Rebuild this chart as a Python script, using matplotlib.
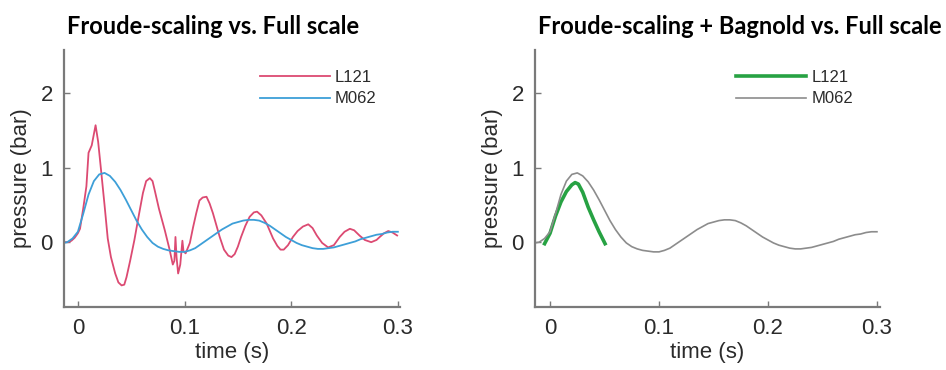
import matplotlib
matplotlib.use("Agg")
import matplotlib.pyplot as plt

# Full-scale measurement M062 (time in s, pressure in bar)
t_m062 = [-0.014, -0.010, -0.005, 0.000, 0.005, 0.010, 0.015, 0.020, 0.025, 0.030,
          0.035, 0.040, 0.045, 0.050, 0.055, 0.060, 0.065, 0.070, 0.075, 0.080,
          0.085, 0.090, 0.095, 0.100, 0.105, 0.110, 0.115, 0.120, 0.125, 0.130,
          0.135, 0.140, 0.145, 0.150, 0.155, 0.160, 0.165, 0.170, 0.175, 0.180,
          0.185, 0.190, 0.195, 0.200, 0.205, 0.210, 0.215, 0.220, 0.225, 0.230,
          0.235, 0.240, 0.245, 0.250, 0.255, 0.260, 0.265, 0.270, 0.275, 0.280,
          0.285, 0.290, 0.295, 0.300]
p_m062 = [-0.01, 0.00, 0.05, 0.14, 0.38, 0.64, 0.82, 0.91, 0.93, 0.89,
          0.81, 0.70, 0.57, 0.43, 0.29, 0.17, 0.07, -0.01, -0.06, -0.09,
          -0.11, -0.12, -0.13, -0.13, -0.11, -0.08, -0.03, 0.02, 0.07, 0.12,
          0.17, 0.21, 0.25, 0.27, 0.29, 0.30, 0.30, 0.29, 0.26, 0.22,
          0.17, 0.12, 0.07, 0.03, -0.01, -0.04, -0.06, -0.08, -0.09, -0.09,
          -0.08, -0.07, -0.05, -0.03, -0.01, 0.01, 0.04, 0.06, 0.08, 0.10,
          0.11, 0.13, 0.14, 0.14]

# Froude-scaled model test L121
t_l121 = [-0.014, -0.009, -0.006, -0.003, 0.000, 0.002, 0.005, 0.008, 0.010, 0.013,
          0.0166, 0.019, 0.022, 0.025, 0.028, 0.031, 0.035, 0.038, 0.041, 0.0435,
          0.0456, 0.049, 0.053, 0.057, 0.061, 0.064, 0.0675, 0.070, 0.072, 0.076,
          0.0815, 0.086, 0.089, 0.0905, 0.0915, 0.0925, 0.094, 0.096, 0.098, 0.099,
          0.101, 0.105, 0.108, 0.111, 0.114, 0.117, 0.1206, 0.1235, 0.1266, 0.130,
          0.133, 0.137, 0.141, 0.144, 0.147, 0.150, 0.153, 0.157, 0.161, 0.165,
          0.168, 0.172, 0.177, 0.180, 0.183, 0.187, 0.190, 0.193, 0.197, 0.2016,
          0.206, 0.211, 0.216, 0.220, 0.224, 0.229, 0.2346, 0.240, 0.2455, 0.250,
          0.255, 0.259, 0.264, 0.269, 0.275, 0.280, 0.283, 0.287, 0.291, 0.295,
          0.2993]
p_l121 = [0.00, 0.00, 0.02, 0.06, 0.12, 0.18, 0.45, 0.75, 1.20, 1.30,
          1.57, 1.35, 0.93, 0.50, 0.05, -0.20, -0.42, -0.54, -0.58, -0.57,
          -0.47, -0.25, 0.03, 0.35, 0.66, 0.82, 0.86, 0.82, 0.70, 0.45,
          0.16, -0.10, -0.30, -0.25, 0.07, -0.20, -0.42, -0.30, 0.02, -0.12,
          -0.15, -0.01, 0.20, 0.39, 0.56, 0.60, 0.61, 0.52, 0.39, 0.22,
          0.07, -0.10, -0.18, -0.20, -0.16, -0.06, 0.07, 0.22, 0.34, 0.40,
          0.41, 0.36, 0.25, 0.15, 0.05, -0.05, -0.10, -0.10, -0.04, 0.07,
          0.15, 0.21, 0.24, 0.19, 0.09, -0.01, -0.07, -0.04, 0.07, 0.14,
          0.18, 0.16, 0.09, 0.03, 0.00, 0.03, 0.07, 0.12, 0.15, 0.13,
          0.09]

# Froude scaling with Bagnold correction applied to L121
t_bag = [-0.005, 0.000, 0.005, 0.010, 0.015, 0.020, 0.023, 0.026, 0.030, 0.035,
         0.040, 0.045, 0.0505]
p_bag = [-0.02, 0.12, 0.35, 0.54, 0.68, 0.77, 0.80, 0.78, 0.67, 0.47,
         0.30, 0.14, -0.02]

x_ticks = [0, 0.1, 0.2, 0.3]
x_ticklabels = ["0", "0.1", "0.2", "0.3"]
y_ticks = [0, 1, 2]
y_ticklabels = ["0", "1", "2"]

titles = ["Froude-scaling vs. Full scale",
          "Froude-scaling + Bagnold vs. Full scale"]

AXIS_GRAY = "#7a7a7a"
TEXT_GRAY = "#2b2b2b"
TICK_FONT = "Liberation Sans"

fig = plt.figure(figsize=(9.46, 3.70), dpi=100)
ax1 = fig.add_axes([64 / 946, 63 / 370, (400 - 64) / 946, 257 / 370])
ax2 = fig.add_axes([535 / 946, 63 / 370, (880 - 535) / 946, 257 / 370])

ax1.plot(t_l121, p_l121, color="#dc4a72", lw=1.3, label="L121")
ax1.plot(t_m062, p_m062, color="#3d9fd8", lw=1.3, label="M062")
ax1.set_xlim(-0.013, 0.302)

ax2.plot(t_bag, p_bag, color="#27a243", lw=2.6, label="L121")
ax2.plot(t_m062, p_m062, color="#8c8c8c", lw=1.2, label="M062")
ax2.set_xlim(-0.0138, 0.3028)

legend_anchor = {ax1: (0.975, 0.98), ax2: (0.965, 0.98)}

for ax, title, tx in [(ax1, titles[0], 213 / 946), (ax2, titles[1], 740 / 946)]:
    ax.set_ylim(-0.87, 2.58)
    ax.set_xticks(x_ticks)
    ax.set_xticklabels(x_ticklabels)
    ax.set_yticks(y_ticks)
    ax.set_yticklabels(y_ticklabels)
    for side in ["top", "right"]:
        ax.spines[side].set_visible(False)
    for side in ["left", "bottom"]:
        ax.spines[side].set_color(AXIS_GRAY)
        ax.spines[side].set_linewidth(1.6)
    ax.tick_params(direction="in", length=4, width=1.0, color=AXIS_GRAY,
                   labelsize=16, labelcolor=TEXT_GRAY, pad=8)
    for lab in ax.get_xticklabels() + ax.get_yticklabels():
        lab.set_fontfamily(TICK_FONT)
    ax.set_xlabel("time (s)", fontsize=16, color=TEXT_GRAY, family=TICK_FONT, labelpad=2)
    ax.set_ylabel("pressure (bar)", fontsize=16, color=TEXT_GRAY, family=TICK_FONT, labelpad=6)
    leg = ax.legend(loc="upper right", bbox_to_anchor=legend_anchor[ax], frameon=False,
                    prop={"family": TICK_FONT, "size": 12}, handlelength=4.2,
                    handletextpad=0.3, labelspacing=0.38)
    for txt in leg.get_texts():
        txt.set_color(TEXT_GRAY)
    fig.text(tx, 1 - 27 / 370, title, ha="center", va="center",
             fontsize=17, fontweight="bold", family="Lato", color="black")

fig.savefig("out.png", dpi=100)
